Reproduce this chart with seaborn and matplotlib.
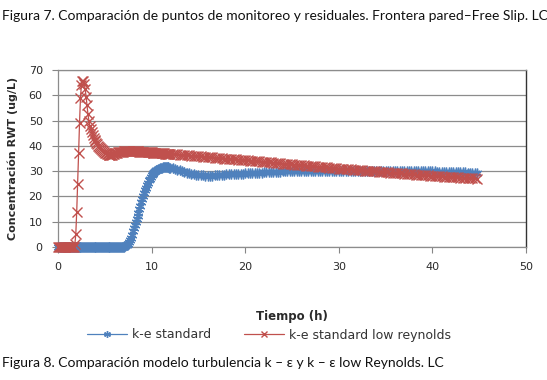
import matplotlib
matplotlib.use("Agg")
import matplotlib.pyplot as plt
import pandas as pd
import seaborn as sns

# ── Data ────────────────────────────────────────────────────────────────────
# time steps: 0.1 h up to 12 h, then 0.25 h
tiempo_h = [
    0.0, 0.1, 0.2, 0.3, 0.4, 0.5, 0.6, 0.7, 0.8, 0.9,
    1.0, 1.1, 1.2, 1.3, 1.4, 1.5, 1.6, 1.7, 1.8, 1.9,
    2.0, 2.1, 2.2, 2.3, 2.4, 2.5, 2.6, 2.7, 2.8, 2.9,
    3.0, 3.1, 3.2, 3.3, 3.4, 3.5, 3.6, 3.7, 3.8, 3.9,
    4.0, 4.1, 4.2, 4.3, 4.4, 4.5, 4.6, 4.7, 4.8, 4.9,
    5.0, 5.1, 5.2, 5.3, 5.4, 5.5, 5.6, 5.7, 5.8, 5.9,
    6.0, 6.1, 6.2, 6.3, 6.4, 6.5, 6.6, 6.7, 6.8, 6.9,
    7.0, 7.1, 7.2, 7.3, 7.4, 7.5, 7.6, 7.7, 7.8, 7.9,
    8.0, 8.1, 8.2, 8.3, 8.4, 8.5, 8.6, 8.7, 8.8, 8.9,
    9.0, 9.1, 9.2, 9.3, 9.4, 9.5, 9.6, 9.7, 9.8, 9.9,
    10.0, 10.1, 10.2, 10.3, 10.4, 10.5, 10.6, 10.7, 10.8, 10.9,
    11.0, 11.1, 11.2, 11.3, 11.4, 11.5, 11.6, 11.7, 11.8, 11.9,
    12.0,
    12.25, 12.5, 12.75, 13.0, 13.25, 13.5, 13.75, 14.0, 14.25, 14.5, 14.75, 15.0,
    15.25, 15.5, 15.75, 16.0, 16.25, 16.5, 16.75, 17.0, 17.25, 17.5, 17.75, 18.0,
    18.25, 18.5, 18.75, 19.0, 19.25, 19.5, 19.75, 20.0,
    20.25, 20.5, 20.75, 21.0, 21.25, 21.5, 21.75, 22.0, 22.25, 22.5, 22.75, 23.0,
    23.25, 23.5, 23.75, 24.0, 24.25, 24.5, 24.75, 25.0, 25.25, 25.5, 25.75, 26.0,
    26.25, 26.5, 26.75, 27.0, 27.25, 27.5, 27.75, 28.0, 28.25, 28.5, 28.75, 29.0,
    29.25, 29.5, 29.75, 30.0,
    30.25, 30.5, 30.75, 31.0, 31.25, 31.5, 31.75, 32.0, 32.25, 32.5, 32.75, 33.0,
    33.25, 33.5, 33.75, 34.0, 34.25, 34.5, 34.75, 35.0, 35.25, 35.5, 35.75, 36.0,
    36.25, 36.5, 36.75, 37.0, 37.25, 37.5, 37.75, 38.0, 38.25, 38.5, 38.75, 39.0,
    39.25, 39.5, 39.75, 40.0,
    40.25, 40.5, 40.75, 41.0, 41.25, 41.5, 41.75, 42.0, 42.25, 42.5, 42.75, 43.0,
    43.25, 43.5, 43.75, 44.0, 44.25, 44.5, 44.75,
]

ke_standard = (
    [0.0] * 70
    + [0.1, 0.2, 0.4, 0.6, 0.9, 1.3, 1.9, 2.7, 3.7, 4.9,
       6.2, 7.4, 8.6, 9.8, 11.0, 12.3, 13.6, 15.0, 16.3, 17.6,
       18.9, 20.1, 21.3, 22.4, 23.5, 24.5, 25.4, 26.3, 27.0, 27.7,
       28.3, 28.8, 29.3, 29.7, 30.0, 30.3, 30.6, 30.8, 31.0, 31.2,
       31.3, 31.4, 31.5, 31.5, 31.6, 31.6, 31.6, 31.5, 31.5, 31.4,
       31.3]
    + [31.1, 30.9, 30.6, 30.3, 30.0, 29.7, 29.4, 29.1, 28.9, 28.7, 28.5, 28.4,
       28.3, 28.3, 28.2, 28.2, 28.2, 28.2, 28.3, 28.3, 28.4, 28.5, 28.6, 28.7,
       28.7, 28.8, 28.8, 28.9, 28.9, 29.0, 29.0, 29.1]
    + [29.1, 29.2, 29.2, 29.3, 29.3, 29.4, 29.4, 29.5, 29.5, 29.6, 29.6, 29.7,
       29.7, 29.8, 29.8, 29.9, 29.9, 29.9, 30.0, 30.0, 30.0, 30.1, 30.1, 30.1,
       30.1, 30.2, 30.2, 30.2, 30.2, 30.2, 30.2, 30.2, 30.2, 30.2, 30.2, 30.2,
       30.2, 30.2, 30.2, 30.2]
    + [30.2] * 10 + [30.1] * 10 + [30.0] * 10 + [29.9] * 10
    + [29.9, 29.8, 29.8, 29.8, 29.7, 29.7, 29.7, 29.6, 29.6, 29.6, 29.5, 29.5,
       29.5, 29.5, 29.4, 29.4, 29.4, 29.4, 29.4]
)

ke_low_reynolds = (
    [0.0] * 18
    + [1.0, 5.0, 14.0, 25.0, 37.0, 49.0, 59.0, 64.0, 65.5, 65.5,
       64.5, 62.5, 59.5, 56.0, 52.5, 50.0, 48.0, 46.5, 45.3, 44.2,
       43.3, 42.5, 41.8, 41.2, 40.6, 40.1, 39.6, 39.1, 38.7, 38.3,
       37.9, 37.6, 37.3, 37.0, 36.8, 36.6, 36.5, 36.4, 36.4, 36.4,
       36.5, 36.7, 36.9, 37.1, 37.2, 37.3, 37.4, 37.5, 37.6, 37.6,
       37.7, 37.7, 37.8]
    + [37.8] * 15
    + [37.8, 37.7, 37.7, 37.7, 37.7, 37.6, 37.6, 37.6, 37.5, 37.5,
       37.5, 37.4, 37.4, 37.4, 37.4, 37.3, 37.3, 37.3, 37.2, 37.2,
       37.2, 37.1, 37.1, 37.1, 37.1, 37.0, 37.0, 37.0, 36.9, 36.9,
       36.9, 36.8, 36.8, 36.8, 36.8]
    + [36.7, 36.6, 36.6, 36.5, 36.4, 36.3, 36.3, 36.2, 36.1, 36.0, 35.9, 35.9,
       35.8, 35.7, 35.6, 35.6, 35.5, 35.4, 35.3, 35.3, 35.2, 35.1, 35.0, 35.0,
       34.9, 34.8, 34.7, 34.7, 34.6, 34.5, 34.5, 34.4]
    + [34.3, 34.2, 34.1, 34.1, 34.0, 33.9, 33.8, 33.7, 33.6, 33.5, 33.5, 33.4,
       33.3, 33.2, 33.1, 33.0, 33.0, 32.9, 32.8, 32.7, 32.6, 32.5, 32.5, 32.4,
       32.3, 32.2, 32.1, 32.0, 32.0, 31.9, 31.8, 31.7, 31.6, 31.5, 31.5, 31.4,
       31.3, 31.2, 31.1, 31.0]
    + [31.0, 30.9, 30.8, 30.7, 30.7, 30.6, 30.5, 30.4, 30.4, 30.3, 30.2, 30.2,
       30.1, 30.0, 29.9, 29.9, 29.8, 29.7, 29.6, 29.6, 29.5, 29.4, 29.3, 29.3,
       29.2, 29.1, 29.1, 29.0, 28.9, 28.8, 28.8, 28.7, 28.6, 28.5, 28.5, 28.4,
       28.3, 28.3, 28.2, 28.2]
    + [28.1, 28.0, 28.0, 27.9, 27.8, 27.8, 27.7, 27.7, 27.6, 27.5, 27.5, 27.4,
       27.4, 27.3, 27.2, 27.2, 27.1, 27.1, 27.0]
)

x_ticks = [0, 10, 20, 30, 40, 50]
y_ticks = [0, 10, 20, 30, 40, 50, 60, 70]

BLUE = "#4F81BD"
RED  = "#C0504D"

# ── Style ───────────────────────────────────────────────────────────────────
sns.set_theme(style="white")
plt.rcParams["font.family"] = ["DejaVu Sans"]

df = pd.DataFrame({"t": tiempo_h, "std": ke_standard, "low": ke_low_reynolds})

fig = plt.figure(figsize=(5.47, 3.80), dpi=100)
ax = fig.add_axes([58 / 547, 1 - 247 / 380, 468 / 547, 177 / 380])

sns.lineplot(data=df, x="t", y="std", ax=ax, color=BLUE, lw=0.9,
             marker=(6, 2, 0), markersize=7, markeredgewidth=1.0,
             markeredgecolor=BLUE, sort=False, label="k-e standard",
             clip_on=False, zorder=3)
sns.lineplot(data=df, x="t", y="low", ax=ax, color=RED, lw=0.9,
             marker="x", markersize=6.5, markeredgewidth=1.0,
             markeredgecolor=RED, sort=False, label="k-e standard low reynolds",
             clip_on=False, zorder=4)

ax.set_xlim(0, 50)
ax.set_ylim(0, 70)
ax.set_xticks(x_ticks)
ax.set_yticks(y_ticks)
ax.tick_params(axis="both", labelsize=8, length=4, width=0.8,
               direction="out", left=True, bottom=True,
               colors="#868686", labelcolor="#2A2A2A")
ax.tick_params(axis="x", pad=6.5)
ax.tick_params(axis="y", pad=7)
ax.yaxis.grid(True, color="#8C8C8C", lw=0.9)
ax.xaxis.grid(False)
for side in ["left", "bottom", "top"]:
    ax.spines[side].set_color("#8C8C8C")
    ax.spines[side].set_linewidth(0.9)
ax.spines["right"].set_color("#333333")
ax.spines["right"].set_linewidth(1.0)

ax.set_xlabel("Tiempo (h)", fontsize=8.5, fontweight="bold", color="#2A2A2A")
ax.set_ylabel("Concentración RWT (ug/L)", fontsize=8, fontweight="bold",
              color="#2A2A2A")
ax.xaxis.set_label_coords(0.5, -0.355)
ax.yaxis.set_label_coords(-0.086, 0.5)

ax.legend(loc="center", bbox_to_anchor=(269 / 547, 1 - 335 / 380),
          bbox_transform=fig.transFigure, ncol=2, frameon=False,
          fontsize=9, handlelength=3.2, handletextpad=0.4, columnspacing=2.6,
          markerscale=0.7, labelcolor="#333333")

cap = ["Lato", "DejaVu Sans"]
fig.text(0.004, 1 - 16 / 380,
         "Figura 7. Comparación de puntos de monitoreo y residuales. "
         "Frontera pared–Free Slip. LC",
         fontsize=10, family=cap, va="center", ha="left", color="#111111")
fig.text(0.004, 1 - 363 / 380,
         "Figura 8. Comparación modelo turbulencia k – ε y k – ε low Reynolds. LC",
         fontsize=10, family=cap, va="center", ha="left", color="#111111")

fig.savefig("out.png", dpi=100)
